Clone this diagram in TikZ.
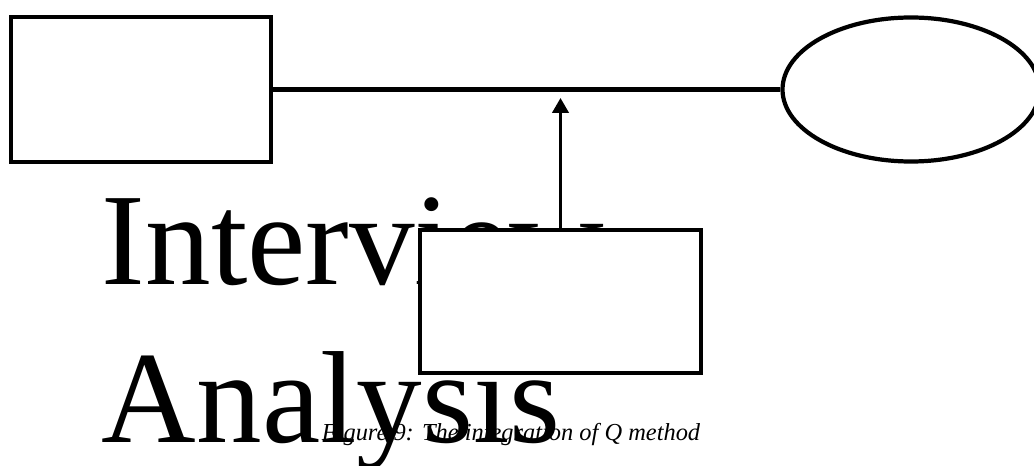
\documentclass[tikz,border=0pt]{standalone}
\usepackage{fontspec}
\setmainfont{Liberation Serif}
\usepackage{tikz}
\usetikzlibrary{shapes.geometric, arrows.meta, positioning}

\begin{document}
\begin{tikzpicture}[
    base/.style={draw, line width=2.4pt, inner sep=0pt, fill=white},
    block/.style={base, rectangle, minimum width=5.2cm, minimum height=2.9cm},
    result/.style={base, ellipse, minimum width=5.14cm, minimum height=2.88cm},
    bigtext/.style={inner sep=0pt, align=left, font=\fontsize{74.6pt}{89.4pt}\selectfont},
    caption/.style={inner sep=0pt, font=\itshape\fontsize{13.9pt}{16pt}\selectfont},
    link/.style={line width=2.4pt},
    arrow/.style={-{Triangle[length=0.3cm, width=0.32cm]}, line width=2.2pt}
]
    \useasboundingbox (0,0) rectangle (20.68,-9.3);

    % --- nodes ---
    \node [block] (qsort) at (2.82,-1.79) {};
    \node [result] (outcome) at (18.22,-1.79) {};

    % caption and large text sit under the lower box
    \node [caption, anchor=base] (cap) at (10.22,-8.80) {Figure 9: The integration of Q method};
    \node [bigtext, anchor=base west] (label) at (2.03,-8.84) {Interview\\Analysis};

    \node [block, minimum width=5.62cm, minimum height=2.86cm] (interview) at (11.21,-6.03) {};
    \coordinate [above=2.6cm of interview.north] (join);

    % --- connectors ---
    \draw [link] (qsort) -- (outcome);
    \draw [arrow] (interview) -- (join);

\end{tikzpicture}
\end{document}
